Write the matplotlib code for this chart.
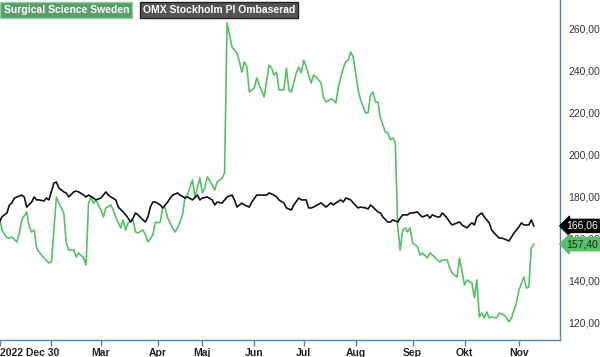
import numpy as np
import pandas as pd
import matplotlib
matplotlib.use('Agg')
import matplotlib.pyplot as plt
import matplotlib.transforms as mtransforms

plt.rcParams['font.family'] = ['Liberation Sans', 'DejaVu Sans']

# === DATA (trading-day index since 2022-12-30, value) ===
green_name = "Surgical Science Sweden"
black_name = "OMX Stockholm PI Ombaserad"

green_idx = [1, 2, 4, 5, 6, 8, 9, 10, 12, 13, 14, 15, 16, 17, 19, 21, 22, 23, 24, 25,
             27, 28, 29, 31, 32, 33, 35, 36, 37, 38, 39, 40, 42, 43, 44, 46, 47, 48, 50, 51,
             52, 53, 55, 56, 57, 59, 60, 61, 63, 64, 65, 66, 67, 68, 69, 71, 72, 73, 75, 76,
             77, 79, 80, 81, 82, 83, 84, 85, 87, 88, 89, 91, 92, 93, 94, 95, 97, 98, 99, 100,
             101, 102, 104, 105, 106, 108, 110, 111, 112, 113, 114, 116, 117, 118, 119, 121, 122, 123, 124, 125,
             127, 128, 129, 131, 132, 133, 135, 136, 137, 138, 140, 141, 142, 143, 144, 145, 146, 147, 149, 150,
             151, 152, 153, 154, 155, 156, 157, 158, 159, 160, 161, 162, 163, 164, 165, 166, 167, 168, 170, 171,
             172, 174, 175, 176, 178, 179, 180, 182, 183, 184, 186, 187, 189, 190, 192, 193, 194, 195, 196, 197,
             198, 199, 200, 202, 203, 205, 206, 207, 208, 209, 210, 211, 213, 214, 215, 216, 217]
green_val = [169.8, 164.1, 160.3, 160.3, 160.8, 158.4, 162.7, 168.9, 172.7, 165.6, 163.2, 164.1, 155.6, 153.7, 150.8, 148.5, 149.0, 164.1, 179.8, 176.9,
             172.2, 158.0, 154.6, 154.6, 151.3, 153.2, 150.8, 147.5, 176.9, 179.8, 176.9, 178.4, 173.6, 170.3, 174.6, 176.0, 173.6, 170.3, 165.1, 168.9,
             164.1, 167.5, 168.9, 163.2, 162.7, 164.1, 161.8, 158.4, 161.8, 167.9, 167.5, 167.9, 175.0, 174.6, 169.8, 165.1, 163.2, 165.1, 171.3, 179.8,
             180.7, 187.9, 179.8, 184.1, 188.8, 181.7, 184.1, 189.3, 185.5, 183.1, 186.9, 188.8, 191.2, 262.4, 256.7, 251.0, 248.1, 243.9, 239.1, 243.9,
             241.5, 229.6, 231.5, 236.3, 233.0, 227.3, 242.4, 241.0, 237.7, 239.1, 230.6, 230.6, 241.0, 230.6, 229.6, 238.7, 241.5, 238.7, 244.8, 241.5,
             233.9, 237.7, 236.7, 233.9, 226.8, 224.9, 226.3, 225.8, 224.4, 232.0, 241.0, 243.9, 244.8, 248.6, 246.2, 238.6, 230.6, 225.8, 219.7, 219.7,
             228.2, 229.6, 224.9, 224.9, 217.3, 214.0, 210.6, 210.2, 206.9, 207.8, 205.9, 165.6, 154.6, 164.1, 165.1, 163.2, 165.1, 158.0, 156.1, 152.3,
             153.2, 150.8, 153.2, 152.3, 149.9, 148.9, 149.9, 149.9, 146.1, 143.7, 141.8, 150.8, 138.0, 140.4, 139.0, 131.9, 140.4, 122.8, 124.7, 122.4,
             125.2, 122.4, 122.8, 122.4, 124.7, 123.8, 122.4, 120.5, 122.4, 126.2, 129.5, 135.6, 141.8, 136.6, 137.1, 155.5, 157.40]

black_idx = [1, 2, 4, 5, 6, 7, 8, 10, 11, 12, 14, 15, 16, 17, 19, 20, 21, 23, 24, 25,
             27, 28, 29, 31, 32, 33, 35, 36, 37, 39, 40, 42, 43, 44, 45, 46, 48, 49, 51, 52,
             53, 54, 55, 56, 57, 59, 60, 61, 62, 63, 64, 66, 67, 69, 70, 71, 73, 74, 76, 77,
             79, 81, 82, 83, 85, 87, 88, 89, 91, 93, 95, 96, 97, 99, 100, 102, 103, 105, 107, 109,
             110, 112, 113, 114, 116, 117, 119, 120, 122, 123, 125, 126, 127, 128, 131, 132, 133, 135, 136, 137,
             139, 140, 141, 143, 144, 146, 147, 149, 150, 151, 152, 154, 155, 156, 158, 159, 160, 162, 163, 164,
             166, 167, 168, 170, 171, 172, 174, 175, 176, 178, 179, 180, 182, 183, 184, 186, 187, 188, 190, 191,
             192, 193, 194, 195, 196, 197, 198, 199, 200, 201, 203, 204, 205, 207, 208, 209, 211, 212, 213, 215,
             216, 217]
black_val = [167.9, 170.4, 172.2, 176.0, 176.9, 179.3, 179.8, 180.7, 179.8, 175.0, 177.4, 179.8, 178.4, 178.4, 177.9, 179.3, 178.4, 186.4, 186.9, 184.1,
             182.2, 181.7, 179.8, 182.2, 182.6, 182.2, 180.7, 179.8, 180.7, 179.3, 178.4, 179.3, 180.7, 182.2, 180.7, 179.8, 178.4, 175.0, 172.7, 171.3,
             169.8, 167.9, 169.8, 172.2, 171.3, 168.9, 167.9, 170.3, 175.0, 177.4, 177.4, 176.0, 174.6, 177.4, 179.3, 180.7, 181.7, 180.7, 179.3, 179.8,
             178.4, 180.7, 178.4, 179.3, 179.8, 178.4, 176.0, 177.4, 176.9, 179.8, 180.7, 178.4, 175.0, 176.9, 176.0, 175.0, 177.4, 180.7, 180.7, 180.7,
             181.7, 180.7, 179.8, 178.4, 176.9, 174.6, 173.6, 176.0, 179.3, 178.4, 178.4, 174.6, 174.6, 175.0, 177.0, 176.0, 175.0, 177.0, 176.0, 177.0,
             178.4, 177.4, 179.3, 178.4, 177.0, 174.6, 175.0, 174.6, 174.1, 176.0, 175.0, 172.7, 172.2, 170.3, 167.9, 167.9, 168.9, 167.9, 169.8, 171.3,
             171.3, 172.2, 172.2, 172.7, 171.3, 170.3, 171.3, 169.8, 171.3, 170.3, 170.3, 172.2, 169.8, 167.9, 166.5, 167.5, 167.9, 166.5, 165.1, 166.5,
             167.5, 166.5, 170.3, 171.3, 172.2, 170.3, 168.9, 167.5, 164.1, 162.7, 160.3, 160.3, 159.9, 158.9, 160.8, 162.7, 165.6, 167.5, 166.5, 166.5,
             168.9, 166.06]

holidays = ['2023-01-06', '2023-04-07', '2023-04-10', '2023-05-01',
            '2023-05-18', '2023-06-06', '2023-06-23']
month_names = ['', 'Mar', 'Apr', 'Maj', 'Jun', 'Jul', 'Aug', 'Sep', 'Okt', 'Nov']  # Feb..Nov
start_label = '2022 Dec 30'
y_ticks = [120, 140, 160, 180, 200, 220, 240, 260]

# === trading calendar -> month tick positions ===
days = pd.bdate_range('2022-12-30', '2023-11-30', freq='C', holidays=holidays)
month_pos = []
for m in range(2, 12):
    month_pos.append(int(np.argmax((days.month == m) & (days.year == 2023))))

GREEN = '#55c167'
SPINE = '#4f86b0'

fig = plt.figure(figsize=(6.0, 3.57), dpi=100)
ax = fig.add_axes([0.0, 0.0476, 0.9333, 0.9524])

ax.plot(black_idx, black_val, color='#111111', lw=1.2, zorder=3)
ax.plot(green_idx, green_val, color=GREEN, lw=1.2, zorder=2)

x_left, x_right = 1.2, 227.6
ax.set_xlim(x_left, x_right)
ax.set_ylim(111.9, 273.3)

for s in ['left', 'top']:
    ax.spines[s].set_visible(False)
for s in ['right', 'bottom']:
    ax.spines[s].set_color(SPINE)
    ax.spines[s].set_linewidth(1.0)

ax.set_xticks([x_left] + month_pos)
ax.set_xticklabels([start_label] + month_names, fontweight='bold', fontsize=7.5, color='#222222')
ax.get_xticklabels()[0].set_horizontalalignment('left')
ax.tick_params(axis='x', direction='out', length=4, width=1, color=SPINE, pad=2)

ax.yaxis.tick_right()
ax.set_yticks(y_ticks)
ax.set_yticklabels([f"{v:.2f}".replace('.', ',') for v in y_ticks], fontsize=7.5, color='#333333')
ax.tick_params(axis='y', length=0, pad=6)

# last-value tags
trans = mtransforms.blended_transform_factory(ax.transAxes, ax.transData)
ax.text(1.012, black_val[-1], f"{black_val[-1]:.2f}".replace('.', ','), transform=trans,
        fontsize=7.5, color='white', va='center', ha='left', zorder=10,
        bbox=dict(boxstyle='larrow,pad=0.15', fc='black', ec='black'))
ax.text(1.012, green_val[-1], f"{green_val[-1]:.2f}".replace('.', ','), transform=trans,
        fontsize=7.5, color='#222222', va='center', ha='left', zorder=10,
        bbox=dict(boxstyle='larrow,pad=0.15', fc=GREEN, ec=GREEN))

# legend boxes
fig.text(0.006, 0.973, green_name, fontsize=7.5, fontweight='bold', color='white',
         va='center', ha='left',
         bbox=dict(boxstyle='square,pad=0.3', fc='#5c9e6b', ec='#8fd19a', lw=1))
fig.text(0.238, 0.973, black_name, fontsize=7.5, fontweight='bold', color='white',
         va='center', ha='left',
         bbox=dict(boxstyle='square,pad=0.3', fc='#555555', ec='#222222', lw=1))

fig.savefig('out.png', dpi=100)
